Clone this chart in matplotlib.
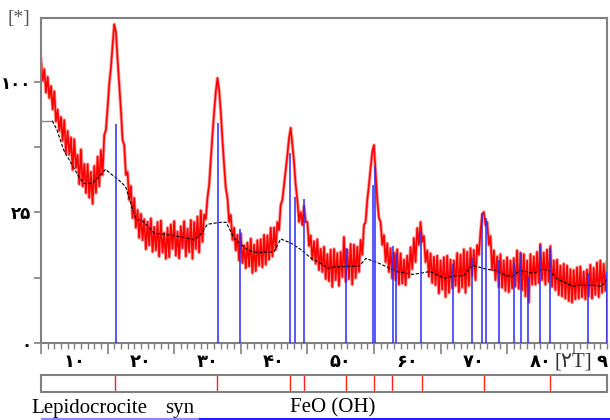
import numpy as np
import matplotlib
matplotlib.use('Agg')
import matplotlib.pyplot as plt
from matplotlib.ticker import FixedLocator, NullLocator
from matplotlib.lines import Line2D


# measured pattern, step 0.25 deg from 5 to 90 (2theta)
counts = [
    118, 101, 110, 92,
    104, 88, 97, 80,
    93, 72, 80, 66,
    75, 60, 73, 53,
    66, 52, 62, 44,
    61, 45, 52, 37,
    55, 36, 47, 33,
    47, 31, 43, 28.4,
    46, 33, 51, 36,
    54.7, 41.4, 63.5, 66.6,
    81, 98.5, 111, 130,
    149, 142, 118, 98,
    80, 60.5, 57.5, 41.4,
    42.9, 30, 36.2, 22.9,
    30.9, 19.5, 26, 16.2,
    24.5, 15.5, 22.5, 12.9,
    21.6, 14.0, 22.8, 12.2,
    19.8, 12.6, 21.5, 11.0,
    22.0, 12.0, 17.8, 10.4,
    19.5, 10.8, 20.6, 13.0,
    21.8, 11.2, 18.2, 10.5,
    20.0, 13.2, 21.8, 11.0,
    19.2, 12.1, 22.2, 10.4,
    21.5, 13.0, 23.5, 12.0,
    25.8, 15.0, 24.2, 22.5,
    30.9, 36.6, 49.2, 63.5,
    78.3, 92.5, 103, 94,
    78.3, 60.5, 46.5, 35.3,
    30.9, 21.5, 24.1, 15.6,
    19.5, 12.6, 17.2, 10.0,
    17.6, 9.4, 14.0, 8.2,
    14.8, 8.6, 16.0, 7.2,
    14.2, 7.6, 15.5, 8.8,
    15.8, 8.4, 17.2, 9.0,
    17.0, 10.2, 19.5, 11.0,
    19.6, 12.8, 21.5, 18.7,
    28.0, 30.0, 36.6, 43.9,
    51.9, 61.7, 67.9, 57.5,
    48.1, 36.6, 30.0, 21.5,
    25.2, 20.4, 27.6, 21.5,
    21.5, 13.8, 17.0, 10.2,
    15.2, 9.2, 15.8, 7.8,
    13.0, 7.4, 13.6, 6.0,
    11.6, 5.6, 12.8, 4.6,
    13.0, 5.8, 11.9, 4.8,
    12.2, 6.4, 16.5, 5.5,
    12.8, 6.0, 14.4, 5.0,
    14.2, 6.2, 13.6, 7.4,
    15.6, 11.4, 20.4, 21.5,
    30.0, 36.6, 45, 53.6,
    57.5, 42.9, 30.0, 22.9,
    21.5, 14.1, 17.1, 9.6,
    14.6, 7.4, 13.2, 6.1,
    12.0, 5.8, 12.9, 5.0,
    11.8, 5.2, 10.2, 4.9,
    11.2, 6.3, 13.5, 8.0,
    16.2, 9.6, 19.4, 14.1,
    21.5, 15.0, 16.8, 9.6,
    12.6, 6.5, 11.8, 5.3,
    10.9, 4.9, 11.2, 3.6,
    10.0, 4.2, 10.8, 3.1,
    11.2, 3.7, 10.2, 4.4,
    10.0, 4.8, 11.9, 3.8,
    11.5, 4.5, 12.9, 3.7,
    12.2, 4.8, 13.2, 6.6,
    12.7, 5.8, 14.1, 11.4,
    18.1, 24.1, 25.2, 20.4,
    21.5, 14.1, 16.8, 7.8,
    12.6, 5.8, 11.0, 4.6,
    11.6, 4.5, 10.0, 4.0,
    10.8, 3.8, 10.0, 4.4,
    10.6, 4.7, 12.6, 4.3,
    12.0, 4.1, 11.6, 3.2,
    10.0, 2.4, 11.6, 5.0,
    11.0, 5.0, 12.2, 5.3,
    14.4, 5.8, 12.0, 5.0,
    12.8, 5.5, 13.8, 4.6,
    10.0, 4.1, 10.2, 3.4,
    8.8, 3.2, 9.2, 2.9,
    8.8, 2.6, 8.0, 2.4,
    7.8, 2.8, 8.4, 2.9,
    8.6, 3.1, 7.5, 2.8,
    7.9, 3.2, 9.0, 2.9,
    8.3, 3.4, 9.5, 3.1,
    10.0, 3.7, 9.2, 4.0,
    9.6,
]
two_theta = np.linspace(5, 90, len(counts))

# fitted background
bg_tt = [5, 6.7, 7.4, 8.4, 9.4, 10.7, 11.4, 12.7, 13.7, 14.7, 15.7, 16.4,
         17.7, 19.2, 20.4, 22, 24.5, 27, 28, 29, 30, 32, 32.8, 34, 36, 37.5,
         40, 41, 42.6, 44.1, 45.6, 46.6, 48.1, 49.1, 52.8, 53.8, 55.8, 58.4,
         60.9, 63.4, 65.6, 66.9, 68.4, 69.8, 70.9, 71.9, 73.4, 74.9, 75.9,
         76.9, 77.9, 78.9, 80.4, 81.4, 82.4, 84.9, 85.9, 87.9, 89.2, 90]
bg_counts = [72.5, 72.5, 66.6, 54.7, 48.2, 40.6, 37.4, 37.4, 40.6, 44.3, 41.4,
             39.8, 35.9, 22.8, 21.6, 17.7, 17.1, 16.1, 15.6, 17.4, 20.7, 21.4,
             21.4, 16.1, 12.7, 12.0, 12.2, 15.9, 14.6, 12.7, 10.5, 9.7, 8.2,
             8.5, 8.7, 10.5, 9.3, 7.5, 6.9, 7.5, 6.1, 6.6, 6.6, 8.9, 8.4, 8.0,
             7.7, 6.6, 6.6, 7.7, 7.5, 7.1, 8.0, 7.7, 6.1, 4.7, 4.9, 4.9, 4.7,
             6.0]

# identified peaks
stick_tt = [16.33, 31.53, 34.9, 42.46, 43.1, 44.57, 50.8, 54.9, 55.1, 57.85,
            58.3, 62.06, 66.9, 69.8, 71.3, 71.9, 73.8, 76.1, 77.1, 78.2, 80.0,
            81.5, 87.2, 89.95]
stick_counts = [70.2, 71.2, 19.1, 52.8, 31.4, 30.3, 13.3, 36.6, 46.1, 13.9,
                11.8, 18.0, 9.2, 10.5, 24.7, 23.0, 10.1, 9.7, 11.8, 6.3, 14.1,
                13.2, 7.1, 7.5]

# reference card lines (Lepidocrocite syn)
ref_tt = [16.13, 31.38, 42.46, 44.46, 50.73, 54.95, 57.7, 62.17, 71.55, 81.43]

y_ticks = [0, 6.25, 25, 56.25, 100]
y_labels = ['۰', '', '۲۵', '', '۱۰۰']
x_label_pos = [10, 20, 30, 40, 50, 60, 70, 80, 90]
x_labels = ['۱۰', '۲۰', '۳۰', '۴۰', '۵۰', '۶۰', '۷۰', '۸۰', '۹۰']

gray = '#808080'
serif = ['Liberation Serif', 'DejaVu Sans']

fig = plt.figure(figsize=(6.1, 4.2), dpi=100)
ax = fig.add_axes([0.0672, 0.1833, 0.9279, 0.7738])

# pale halo under the scan, then the scan itself
ax.plot(two_theta, counts, color='#ff9a9a', lw=2.4, zorder=1)
ax.plot(two_theta, counts, color='#ff0000', lw=1.2, zorder=2)
ax.plot(bg_tt[:2], bg_counts[:2], color='#888888', lw=1.0, zorder=3)
ax.plot(bg_tt[1:], bg_counts[1:], color='black', lw=0.8, dashes=(3, 1.5),
        zorder=3)
ax.vlines(stick_tt, 0, stick_counts, color='#2a2aff', lw=1.1, zorder=4)

ax.set_yscale('function', functions=(lambda v: np.sqrt(np.clip(v, 0, None)),
                                     lambda v: np.square(v)))
ax.set_xlim(5, 90)
ax.set_ylim(0, 155)

ax.yaxis.set_major_locator(FixedLocator(y_ticks))
ax.yaxis.set_minor_locator(NullLocator())
ax.set_yticklabels(y_labels, fontsize=12, fontweight='bold')

ax.xaxis.set_major_locator(FixedLocator(np.arange(5, 90, 10)))
ax.xaxis.set_minor_locator(FixedLocator(np.arange(5, 91, 1)))
ax.set_xticklabels([])
ax.tick_params(axis='x', which='major', length=8, width=1.2, color=gray)
ax.tick_params(axis='x', which='minor', length=4, width=1.0, color=gray)
ax.tick_params(axis='y', length=5, width=1.2, color=gray, pad=2)

for x, lab in zip(x_label_pos, x_labels):
    ax.text(x, -0.058, lab, transform=ax.get_xaxis_transform(),
            ha='center', va='center', fontsize=13, fontweight='bold')
ax.text(84.9, -0.058, '[۲T]', transform=ax.get_xaxis_transform(),
        ha='center', va='center', fontsize=15, family=serif, color='#333333')

for s in ax.spines.values():
    s.set_color(gray)
    s.set_linewidth(1.5)

fig.text(0.013, 0.955, '[*]', fontsize=14, family=serif, color='#555555',
         ha='left', va='center')

# reference strip below the pattern
ax2 = fig.add_axes([0.0672, 0.0667, 0.9279, 0.0405])
ax2.vlines(ref_tt, 0, 1, color='#ff2020', lw=1.0)
ax2.set_xlim(5, 90)
ax2.set_ylim(0, 1)
ax2.set_xticks([])
ax2.set_yticks([])
for s in ax2.spines.values():
    s.set_color(gray)
    s.set_linewidth(1.5)

fig.text(0.052, 0.017, 'Lepidocrocite', fontsize=15, family=serif,
         ha='left', va='baseline')
fig.text(0.270, 0.017, 'syn', fontsize=15, family=serif,
         ha='left', va='baseline')
fig.text(0.475, 0.017, 'FeO (OH)', fontsize=15, family=serif,
         ha='left', va='baseline')

fig.add_artist(Line2D([0.069, 0.328], [0.003, 0.003], color='#8888ff', lw=1.5))
fig.add_artist(Line2D([0.328, 1.0], [0.003, 0.003], color='#2020ff', lw=1.5))

fig.savefig('out.png', dpi=100)
